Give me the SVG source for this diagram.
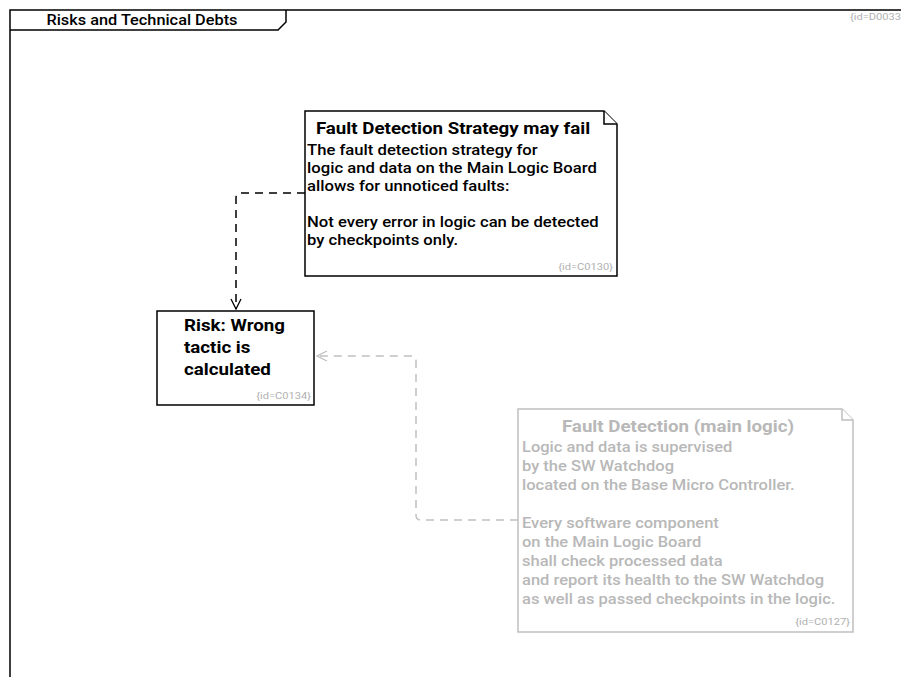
<svg xmlns="http://www.w3.org/2000/svg" width="901" height="677" viewBox="0 0 901 677">
  <style>
    .frame { fill: none; stroke: #000; stroke-width: 1.5; }
    .box { fill: #fff; stroke: #000; stroke-width: 1.5; }
    .box-dim { fill: #fff; stroke: #c0c0c0; stroke-width: 1.5; }
    .title { font-family: Roboto, "Liberation Sans", sans-serif; font-weight: bold; font-size: 16px; fill: #000; }
    .body { font-family: Roboto, "Liberation Sans", sans-serif; font-weight: 500; font-size: 14px; fill: #000; }
    .dim { fill: #b8b8b8; }
    .ident { font-family: Roboto, "Liberation Sans", sans-serif; font-size: 9.5px; fill: #b0b0b0; }
    .frame-title { font-family: Roboto, "Liberation Sans", sans-serif; font-weight: 500; font-size: 14px; fill: #000; }
    .dep { fill: none; stroke: #000; stroke-width: 1.5; stroke-dasharray: 8 6; }
    .dep-dim { fill: none; stroke: #c0c0c0; stroke-width: 1.5; stroke-dasharray: 8 6; }
  </style>
  <defs>
    <marker id="open-arrow" viewBox="0 0 12 12" refX="11" refY="6" markerWidth="12" markerHeight="12" markerUnits="userSpaceOnUse" orient="auto">
      <path d="M1,1 L11,6 L1,11" fill="none" stroke="#000" stroke-width="1.3"/>
    </marker>
    <marker id="open-arrow-dim" viewBox="0 0 12 12" refX="11" refY="6" markerWidth="12" markerHeight="12" markerUnits="userSpaceOnUse" orient="auto">
      <path d="M1,1 L11,6 L1,11" fill="none" stroke="#c0c0c0" stroke-width="1.3"/>
    </marker>
  </defs>

  <rect width="901" height="677" fill="#fff"/>

  <!-- diagram frame with title tab -->
  <g id="frame">
    <path class="frame" d="M10,677 L10,10 L901,10"/>
    <path class="frame" d="M286,10 L286,22 L278,30 L10,30"/>
    <g transform="matrix(1.166 0 0 1 -23.6 0)">
      <text class="frame-title" x="142" y="25" text-anchor="middle">Risks and Technical Debts</text>
    </g>
    <g transform="matrix(1.17 0 0 1 -144.5 0)">
      <text class="ident" x="850" y="20">{id=D0033}</text>
    </g>
  </g>

  <!-- connectors -->
  <g id="connectors">
    <path class="dep" d="M305,193 L241,193 Q236,193 236,198 L236,309" marker-end="url(#open-arrow)"/>
    <path class="dep-dim" d="M518,520 L421,520 Q416,520 416,515 L416,361 Q416,356 411,356 L317,356" marker-end="url(#open-arrow-dim)"/>
  </g>

  <!-- note: Fault Detection Strategy may fail -->
  <g id="C0130">
    <path class="box" d="M305,111 L604,111 L617,124 L617,276 L305,276 Z"/>
    <path class="box" d="M604,111 L604,124 L617,124" fill="none"/>
    <g transform="matrix(1.17 0 0 1 -77 0)">
      <text class="title" x="453" y="134" text-anchor="middle">Fault Detection Strategy may fail</text>
    </g>
    <g transform="matrix(1.19 0 0 1 -58.3 0)">
      <text class="body" x="307" y="155">The fault detection strategy for</text>
      <text class="body" x="307" y="173">logic and data on the Main Logic Board</text>
      <text class="body" x="307" y="191">allows for unnoticed faults:</text>
      <text class="body" x="307" y="227">Not every error in logic can be detected</text>
      <text class="body" x="307" y="245">by checkpoints only.</text>
    </g>
    <g transform="matrix(1.17 0 0 1 -104.2 0)">
      <text class="ident" x="613" y="270" text-anchor="end">{id=C0130}</text>
    </g>
  </g>

  <!-- risk element -->
  <g id="C0134">
    <rect class="box" x="157" y="311" width="157" height="94"/>
    <g transform="matrix(1.17 0 0 1 -31.28 0)">
      <text class="title" x="184" y="331">Risk: Wrong</text>
      <text class="title" x="184" y="353">tactic is</text>
      <text class="title" x="184" y="375">calculated</text>
    </g>
    <g transform="matrix(1.17 0 0 1 -52.9 0)">
      <text class="ident" x="311" y="399" text-anchor="end">{id=C0134}</text>
    </g>
  </g>

  <!-- note: Fault Detection (main logic), shown dimmed -->
  <g id="C0127">
    <path class="box-dim" d="M518,409 L842,409 L853,420 L853,632 L518,632 Z"/>
    <path class="box-dim" d="M842,409 L842,420 L853,420" fill="none"/>
    <g transform="matrix(1.17 0 0 1 -115.26 0)">
      <text class="title dim" x="678" y="432" text-anchor="middle">Fault Detection (main logic)</text>
    </g>
    <g transform="matrix(1.18 0 0 1 -93.96 0)">
      <text class="body dim" x="522" y="452">Logic and data is supervised</text>
      <text class="body dim" x="522" y="471">by the SW Watchdog</text>
      <text class="body dim" x="522" y="490">located on the Base Micro Controller.</text>
      <text class="body dim" x="522" y="528">Every software component</text>
      <text class="body dim" x="522" y="547">on the Main Logic Board</text>
      <text class="body dim" x="522" y="566">shall check processed data</text>
      <text class="body dim" x="522" y="585">and report its health to the SW Watchdog</text>
      <text class="body dim" x="522" y="604">as well as passed checkpoints in the logic.</text>
    </g>
    <g transform="matrix(1.17 0 0 1 -144.5 0)">
      <text class="ident" x="850" y="625" text-anchor="end">{id=C0127}</text>
    </g>
  </g>
</svg>
